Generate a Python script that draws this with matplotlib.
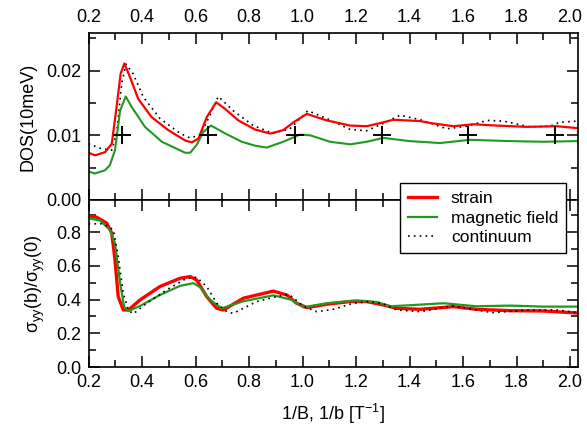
import numpy as np
import matplotlib
matplotlib.use("Agg")
import matplotlib.pyplot as plt
from matplotlib.ticker import MultipleLocator

plt.rcParams['font.family'] = ['Liberation Sans', 'DejaVu Sans']
plt.rcParams['font.size'] = 13
plt.rcParams['mathtext.fontset'] = 'custom'
plt.rcParams['mathtext.rm'] = 'Liberation Sans'
plt.rcParams['mathtext.it'] = 'Liberation Sans'

# --- top panel: density of states ---
dos_strain_x = [0.20, 0.225, 0.262, 0.287, 0.305, 0.320, 0.334, 0.355, 0.386, 0.436, 0.498,
                0.561, 0.586, 0.611, 0.642, 0.677, 0.710, 0.760, 0.822, 0.879, 0.928, 0.966,
                1.016, 1.090, 1.178, 1.240, 1.302, 1.339, 1.439, 1.477, 1.564, 1.638, 1.726,
                1.838, 1.950, 2.030]
dos_strain_y = [0.0073, 0.0069, 0.0074, 0.0087, 0.0144, 0.0195, 0.0211, 0.0190, 0.0156, 0.0128, 0.0108,
                0.0092, 0.0089, 0.0095, 0.0128, 0.0151, 0.0141, 0.0123, 0.0109, 0.01026, 0.0108, 0.0120,
                0.0133, 0.0123, 0.0115, 0.0114, 0.0120, 0.0124, 0.0122, 0.0119, 0.0114, 0.0117, 0.0115,
                0.0113, 0.0114, 0.0111]

dos_field_x = [0.20, 0.224, 0.262, 0.280, 0.299, 0.318, 0.339, 0.361, 0.411, 0.474, 0.561,
               0.580, 0.604, 0.629, 0.658, 0.710, 0.773, 0.822, 0.866, 0.928, 0.990, 1.028,
               1.103, 1.178, 1.240, 1.302, 1.400, 1.514, 1.626, 1.776, 1.900, 2.030]
dos_field_y = [0.0044, 0.0041, 0.0046, 0.0054, 0.0077, 0.0138, 0.0160, 0.0144, 0.0113, 0.0090, 0.0073,
               0.0073, 0.0085, 0.0105, 0.0115, 0.0103, 0.0090, 0.0084, 0.0081, 0.0090, 0.0101, 0.0100,
               0.0090, 0.0086, 0.0090, 0.0096, 0.0091, 0.0088, 0.0093, 0.0091, 0.0090, 0.0091]

dos_cont_x = [0.20, 0.243, 0.287, 0.305, 0.324, 0.340, 0.367, 0.405, 0.467, 0.542, 0.579,
              0.617, 0.654, 0.685, 0.741, 0.816, 0.890, 0.953, 1.020, 1.090, 1.178, 1.240,
              1.300, 1.364, 1.440, 1.539, 1.614, 1.690, 1.750, 1.850, 1.925, 1.960, 2.030]
dos_cont_y = [0.0087, 0.0080, 0.0077, 0.0103, 0.0180, 0.0210, 0.0195, 0.0159, 0.0126, 0.0103, 0.0096,
              0.0100, 0.0131, 0.0160, 0.0138, 0.0115, 0.0103, 0.0110, 0.0138, 0.0126, 0.0109, 0.0107,
              0.0118, 0.0131, 0.0124, 0.0110, 0.0114, 0.0123, 0.0122, 0.0113, 0.0114, 0.0120, 0.0122]

plus_x = [0.324, 0.648, 0.972, 1.296, 1.620, 1.944]
plus_y = [0.01, 0.01, 0.01, 0.01, 0.01, 0.01]

# --- bottom panel: conductivity ratio ---
sig_strain_x = [0.20, 0.23, 0.268, 0.287, 0.299, 0.311, 0.330, 0.349, 0.393, 0.467, 0.542,
                0.580, 0.604, 0.642, 0.679, 0.704, 0.779, 0.891, 0.941, 0.978, 1.016, 1.090,
                1.178, 1.240, 1.302, 1.352, 1.439, 1.564, 1.650, 1.776, 1.900, 2.030]
sig_strain_y = [0.896, 0.888, 0.853, 0.793, 0.635, 0.417, 0.338, 0.338, 0.398, 0.477, 0.526,
                0.536, 0.516, 0.417, 0.348, 0.338, 0.408, 0.450, 0.427, 0.378, 0.352, 0.372,
                0.388, 0.388, 0.368, 0.348, 0.342, 0.358, 0.342, 0.334, 0.332, 0.320]

sig_field_x = [0.20, 0.243, 0.280, 0.299, 0.318, 0.333, 0.349, 0.393, 0.467, 0.542, 0.592,
               0.617, 0.654, 0.698, 0.779, 0.891, 0.960, 1.003, 1.090, 1.200, 1.280, 1.327,
               1.400, 1.527, 1.650, 1.776, 1.900, 2.030]
sig_field_y = [0.882, 0.868, 0.813, 0.734, 0.497, 0.358, 0.332, 0.362, 0.427, 0.481, 0.497,
               0.473, 0.398, 0.348, 0.390, 0.425, 0.398, 0.354, 0.378, 0.395, 0.385, 0.360,
               0.366, 0.378, 0.360, 0.364, 0.358, 0.358]

sig_cont_x = [0.20, 0.255, 0.293, 0.311, 0.330, 0.349, 0.367, 0.418, 0.492, 0.567, 0.604,
              0.642, 0.679, 0.717, 0.741, 0.829, 0.928, 0.953, 1.003, 1.053, 1.115, 1.190,
              1.250, 1.302, 1.352, 1.439, 1.564, 1.710, 1.840, 1.950, 2.030]
sig_cont_y = [0.849, 0.849, 0.813, 0.655, 0.437, 0.338, 0.315, 0.378, 0.457, 0.526, 0.532,
              0.477, 0.378, 0.328, 0.318, 0.388, 0.427, 0.427, 0.360, 0.328, 0.342, 0.378,
              0.388, 0.374, 0.338, 0.328, 0.362, 0.322, 0.338, 0.338, 0.322]

RED = '#ff0000'
GREEN = '#1f9a1f'
DOT = (0, (1, 2.5))

fig = plt.figure(figsize=(5.87, 4.29), dpi=100)
ax1 = fig.add_axes([0.1508, 0.5338, 0.834, 0.3892])
ax2 = fig.add_axes([0.1508, 0.1445, 0.834, 0.3893])

ax1.plot(dos_cont_x, dos_cont_y, color='black', lw=1.2, ls=DOT)
ax1.plot(dos_field_x, dos_field_y, color=GREEN, lw=1.5)
ax1.plot(dos_strain_x, dos_strain_y, color=RED, lw=1.6)
ax1.plot(plus_x, plus_y, ls='none', marker='+', color='black', ms=13, mew=1.4)

l1, = ax2.plot(sig_strain_x, sig_strain_y, color=RED, lw=2.4)
l2, = ax2.plot(sig_field_x, sig_field_y, color=GREEN, lw=1.6)
l3, = ax2.plot(sig_cont_x, sig_cont_y, color='black', lw=1.2, ls=DOT)

for ax in (ax1, ax2):
    ax.set_xlim(0.2, 2.03)
    ax.xaxis.set_major_locator(MultipleLocator(0.2))
    ax.xaxis.set_minor_locator(MultipleLocator(0.1))
    ax.tick_params(which='both', direction='in', top=True, right=True, width=1.1)
    ax.tick_params(which='major', length=8, labelsize=13, pad=5)
    ax.tick_params(which='minor', length=5)
    for s in ax.spines.values():
        s.set_linewidth(1.2)

ax1.set_ylim(0, 0.0258)
ax1.yaxis.set_major_locator(MultipleLocator(0.01))
ax1.yaxis.set_minor_locator(MultipleLocator(0.005))
ax1.yaxis.set_major_formatter(plt.FormatStrFormatter('%.2f'))
ax1.tick_params(axis='x', labeltop=True, labelbottom=False)
ax1.set_ylabel('DOS(10meV)', fontsize=13, labelpad=7)

ax2.set_ylim(0, 0.99)
ax2.yaxis.set_major_locator(MultipleLocator(0.2))
ax2.yaxis.set_minor_locator(MultipleLocator(0.1))
ax2.yaxis.set_major_formatter(plt.FormatStrFormatter('%.1f'))
ax2.set_ylabel(r'$\sigma_{yy}$(b)/$\sigma_{yy}$(0)', fontsize=13, labelpad=7)
ax2.set_xlabel(r'1/B, 1/b [T$^{-1}$]', fontsize=13, labelpad=8)

leg = fig.legend([l1, l2, l3], ['strain', 'magnetic field', 'continuum'],
                 loc='upper left', bbox_to_anchor=(0.681, 0.573), fontsize=12.5,
                 fancybox=False, framealpha=1, edgecolor='black', borderaxespad=0,
                 handlelength=1.7, borderpad=0.45, labelspacing=0.25, handletextpad=0.8)
leg.get_frame().set_linewidth(1.0)

fig.savefig('out.png', dpi=100)
